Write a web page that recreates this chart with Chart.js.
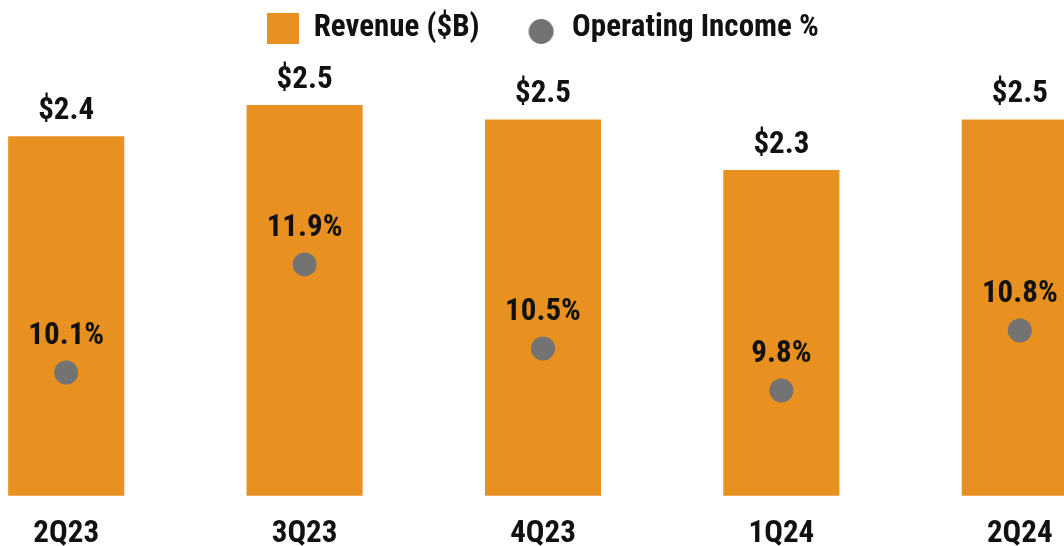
<!DOCTYPE html>
<html>
<head>
<meta charset="utf-8">
<title>Revenue and Operating Income</title>
<script src="https://cdn.jsdelivr.net/npm/chart.js@4/dist/chart.umd.min.js"></script>
<style>
    html, body { margin: 0; padding: 0; background: #fff; overflow: hidden; }
    body { width: 1064px; height: 546px; position: relative; }
    /* the last bar is cut by the right edge in the original slide */
    .chart-wrap { position: absolute; left: -65px; top: 0; width: 1216px; height: 546px; }
</style>
</head>
<body>
<div class="chart-wrap"><canvas id="revenueChart"></canvas></div>
<script>
// Dữ liệu
const quarters = ['2Q23', '3Q23', '4Q23', '1Q24', '2Q24'];
const revenue = [2.41, 2.54, 2.48, 2.27, 2.48];          // $B
const operatingIncome = [10.1, 11.9, 10.5, 9.8, 10.8];   // %

const ORANGE = '#E89120';
const GREY = '#737373';
const TEXT = '#111';
const FONT_FAMILY = "'Roboto Condensed', 'Liberation Sans', Arial, sans-serif";
const FONT_SIZE = 31;

// Legend icons
function makeSquare(w, h, color) {
    const c = document.createElement('canvas');
    c.width = w; c.height = h;
    const ctx = c.getContext('2d');
    ctx.fillStyle = color;
    ctx.fillRect(0, 0, w, h);
    return c;
}
function makeDot(r, dy, color) {
    const c = document.createElement('canvas');
    c.width = 2 * r + 2; c.height = 2 * r + 2 + 2 * dy;
    const ctx = c.getContext('2d');
    ctx.fillStyle = color;
    ctx.beginPath();
    ctx.arc(c.width / 2, c.height / 2 + dy, r, 0, Math.PI * 2);
    ctx.fill();
    return c;
}
const legendIcons = [makeSquare(32, 31, ORANGE), makeDot(12.5, 3, GREY)];

// Value labels above bars and dots
const valueLabels = {
    id: 'valueLabels',
    afterDatasetsDraw(chart) {
        const ctx = chart.ctx;
        ctx.save();
        ctx.font = 'bold ' + FONT_SIZE + 'px ' + FONT_FAMILY;
        ctx.fillStyle = TEXT;
        ctx.textAlign = 'center';
        ctx.textBaseline = 'middle';
        chart.getDatasetMeta(0).data.forEach((bar, i) => {
            ctx.fillText('$' + revenue[i].toFixed(1), bar.x, bar.y - 25);
        });
        chart.getDatasetMeta(1).data.forEach((pt, i) => {
            ctx.fillText(operatingIncome[i].toFixed(1) + '%', pt.x, pt.y - 36);
        });
        ctx.restore();
    }
};

const ctx = document.getElementById('revenueChart').getContext('2d');
const chart = new Chart(ctx, {
    data: {
        labels: quarters,
        datasets: [{
            type: 'bar',
            label: 'Revenue ($B)',
            data: revenue,
            backgroundColor: ORANGE,
            borderWidth: 0,
            categoryPercentage: 1,
            barPercentage: 0.487,
            yAxisID: 'y',
            order: 1
        }, {
            type: 'line',
            label: 'Operating Income %',
            data: operatingIncome,
            showLine: false,
            pointRadius: 12,
            pointHoverRadius: 12,
            pointBackgroundColor: GREY,
            pointBorderWidth: 0,
            yAxisID: 'y2',
            order: 0
        }]
    },
    options: {
        responsive: true,
        maintainAspectRatio: false,
        animation: false,
        events: [],
        layout: {
            padding: { top: -33, bottom: -27, left: 0, right: 0 }
        },
        plugins: {
            tooltip: { enabled: false },
            legend: {
                position: 'top',
                labels: {
                    usePointStyle: true,
                    boxWidth: 32,
                    boxHeight: 31,
                    padding: 46,
                    color: TEXT,
                    font: { family: FONT_FAMILY, size: FONT_SIZE, weight: 'bold' },
                    generateLabels(chart) {
                        const items = Chart.defaults.plugins.legend.labels.generateLabels(chart);
                        items.sort((a, b) => a.datasetIndex - b.datasetIndex);
                        items.forEach(item => { item.pointStyle = legendIcons[item.datasetIndex]; });
                        return items;
                    }
                }
            }
        },
        scales: {
            x: {
                offset: true,
                grid: { display: false, drawTicks: false },
                border: { display: false },
                ticks: {
                    padding: 20,
                    color: TEXT,
                    font: { family: FONT_FAMILY, size: FONT_SIZE, weight: 'bold' }
                }
            },
            y: {
                display: false,
                min: 0.915,
                max: 2.7525
            },
            y2: {
                display: false,
                position: 'right',
                min: 8.05,
                max: 15.4
            }
        }
    },
    plugins: [valueLabels]
});
</script>
</body>
</html>
